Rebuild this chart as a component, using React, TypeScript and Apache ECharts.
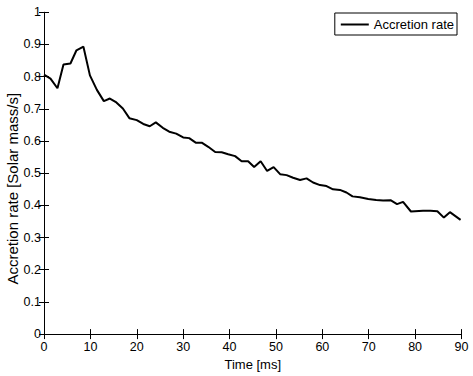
import React, { useEffect, useRef } from "react";
import * as echarts from "echarts";

const timeMs = [
  0, 1.4, 2.9, 4.2, 5.7, 7.0, 8.5, 9.9, 11.4, 12.9, 14.2, 15.6, 17.0, 18.4, 20.0,
  21.4, 22.8, 24.1, 25.6, 27.0, 28.5, 30.0, 31.3, 32.7, 34.0, 35.4, 36.9, 38.3,
  39.7, 41.2, 42.6, 44.0, 45.3, 46.7, 48.1, 49.5, 50.9, 52.3, 53.7, 55.2, 56.6,
  58.0, 59.5, 60.9, 62.3, 63.8, 65.2, 66.5, 68.1, 69.9, 71.6, 73.1, 74.7, 76.1,
  77.4, 79.1, 81.7, 83.3, 84.8, 86.2, 87.5, 89.8,
];

const accretionRate = [
  0.806, 0.794, 0.764, 0.838, 0.841, 0.882, 0.893, 0.804, 0.759, 0.724, 0.732,
  0.72, 0.701, 0.671, 0.665, 0.653, 0.646, 0.658, 0.641, 0.629, 0.623, 0.611,
  0.609, 0.595, 0.595, 0.582, 0.566, 0.565, 0.559, 0.553, 0.537, 0.537, 0.519,
  0.537, 0.507, 0.519, 0.497, 0.494, 0.486, 0.479, 0.484, 0.471, 0.463, 0.46,
  0.45, 0.448, 0.44, 0.428, 0.425, 0.42, 0.417, 0.415, 0.416, 0.404, 0.411,
  0.381, 0.383, 0.383, 0.382, 0.362, 0.379, 0.355,
];

const seriesName = "Accretion rate";
const xAxisTitle = "Time [ms]";
const yAxisTitle = "Accretion rate [Solar mass/s]";

const FONT = "'Liberation Sans', Arial, Helvetica, sans-serif";

export default function App() {
  const ref = useRef<HTMLDivElement>(null);

  useEffect(() => {
    document.body.style.margin = "0";
    if (!ref.current) return;
    const chart = echarts.init(ref.current, undefined, { renderer: "svg" });

    const tickStyle = { show: true, inside: true, length: 5, lineStyle: { color: "#000", width: 1 } };
    const lineStyle = { show: true, lineStyle: { color: "#000", width: 1 } };

    chart.setOption({
      animation: false,
      backgroundColor: "#fff",
      grid: { left: 44, right: 11.5, top: 12.3, bottom: 35.7, containLabel: false },
      legend: {
        data: [seriesName],
        icon: "rect",
        right: 16,
        top: 13,
        padding: [5, 3, 4, 6],
        itemWidth: 28,
        itemHeight: 2,
        itemGap: 5,
        borderColor: "#000",
        borderWidth: 1,
        borderRadius: 0,
        backgroundColor: "#fff",
        itemStyle: { color: "#000", borderWidth: 0 },
        textStyle: { fontFamily: FONT, fontSize: 13, fontWeight: "normal", color: "#000" },
      },
      xAxis: [
        {
          type: "value",
          min: 0,
          max: 90,
          interval: 10,
          position: "bottom",
          axisLine: lineStyle,
          axisTick: tickStyle,
          splitLine: { show: false },
          axisLabel: { margin: 6, fontFamily: FONT, fontSize: 12.5, fontWeight: "normal", color: "#000" },
          name: xAxisTitle,
          nameLocation: "middle",
          nameGap: 17,
          nameTextStyle: { fontFamily: FONT, fontSize: 13, fontWeight: "normal", color: "#000" },
        },
        {
          type: "value",
          min: 0,
          max: 90,
          interval: 10,
          position: "top",
          axisLine: lineStyle,
          axisTick: tickStyle,
          splitLine: { show: false },
          axisLabel: { show: false },
        },
      ],
      yAxis: [
        {
          type: "value",
          min: 0,
          max: 1,
          interval: 0.1,
          position: "left",
          axisLine: lineStyle,
          axisTick: tickStyle,
          splitLine: { show: false },
          axisLabel: { margin: 3, fontFamily: FONT, fontSize: 12.5, fontWeight: "normal", color: "#000" },
        },
        {
          type: "value",
          min: 0,
          max: 1,
          interval: 0.1,
          position: "right",
          axisLine: lineStyle,
          axisTick: tickStyle,
          splitLine: { show: false },
          axisLabel: { show: false },
        },
      ],
      graphic: [
        {
          type: "text",
          x: 12.5,
          y: 188.7,
          rotation: Math.PI / 2,
          style: {
            text: yAxisTitle,
            fontFamily: FONT,
            fontSize: 15,
            fontWeight: "normal",
            fill: "#000",
            align: "center",
            verticalAlign: "middle",
          },
        },
      ],
      series: [
        {
          name: seriesName,
          type: "line",
          xAxisIndex: 0,
          yAxisIndex: 0,
          data: timeMs.map((t, i) => [t, accretionRate[i]]),
          symbol: "none",
          showSymbol: false,
          lineStyle: { color: "#000", width: 2 },
          itemStyle: { color: "#000" },
        },
      ],
    });

    return () => chart.dispose();
  }, []);

  return <div ref={ref} style={{ width: 473, height: 376 }} />;
}
